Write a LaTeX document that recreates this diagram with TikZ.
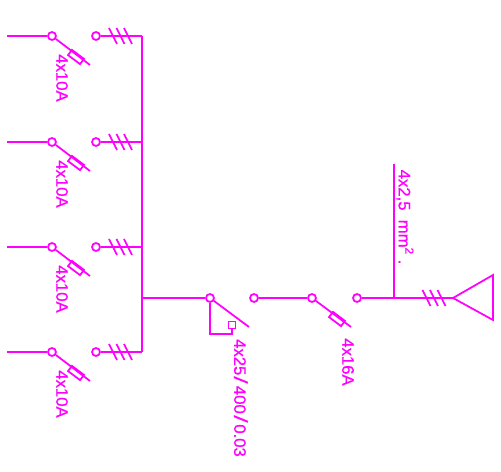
\documentclass[tikz,border=0pt]{standalone}
\usepackage{fontspec}
\setmainfont{Liberation Sans}
\newfontfamily\ratingfont[FakeBold=0.7]{Liberation Sans}
\usepackage{tikz}
\definecolor{wirecolor}{RGB}{255,0,255}
\tikzstyle{wire} = [draw=wirecolor,line width=1pt]
\tikzstyle{term} = [circle,draw=wirecolor,line width=1pt,fill=white,inner sep=0pt,minimum size=0.16cm]
\tikzstyle{fuse} = [rectangle,draw=wirecolor,line width=1pt,inner sep=0pt,minimum width=0.3cm,minimum height=0.13cm,rotate=-37]
\tikzstyle{rcd} = [rectangle,draw=wirecolor,line width=1pt,inner sep=0pt,minimum size=0.14cm]
\tikzstyle{rating} = [text=wirecolor,font=\ratingfont\fontsize{9.5}{11}\selectfont,rotate=-90,inner sep=0pt]
\newcommand{\threeticks}[2]{
\draw[wire] (#1-7.5,#2)+(-4,-8) -- +(4,8);
\draw[wire] (#1,#2)+(-4,-8) -- +(4,8);
\draw[wire] (#1+7.5,#2)+(-4,-8) -- +(4,8);
}
\newcommand{\wideslash}{\hspace{0.08em}{\normalfont\fontsize{9.5}{11}\selectfont\scalebox{1.7}[1.15]{/}}\hspace{0.08em}}

\begin{document}
\begin{tikzpicture}[x=0.02cm,y=-0.02cm]
\useasboundingbox (0,0) rectangle (501,472);

\coordinate (in1) at (7,36);
\coordinate (in2) at (7,142);
\coordinate (in3) at (7,247);
\coordinate (in4) at (7,352);
\coordinate (bus1) at (142,36);
\coordinate (bus2) at (142,142);
\coordinate (bus3) at (142,247);
\coordinate (bus4) at (142,352);
\coordinate (busout) at (142,298);
\coordinate (blade1) at (90,65);
\coordinate (blade2) at (90,171);
\coordinate (blade3) at (90,276);
\coordinate (blade4) at (90,381);
\coordinate (bladercd) at (249,327);
\coordinate (blademain) at (351,327);
\coordinate (corner) at (210,334);
\coordinate (cornerb) at (232,334);
\coordinate (tap) at (394,298);
\coordinate (taptop) at (394,164);

\draw[wire] (bus1) -- (bus4);

\node[term] (a1) at (52,36) {};
\node[term] (b1) at (96,36) {};
\node[term] (a2) at (52,142) {};
\node[term] (b2) at (96,142) {};
\node[term] (a3) at (52,247) {};
\node[term] (b3) at (96,247) {};
\node[term] (a4) at (52,352) {};
\node[term] (b4) at (96,352) {};
\node[term] (rcdin) at (210,298) {};
\node[term] (rcdout) at (254,298) {};
\node[term] (mainin) at (312,298) {};
\node[term] (mainout) at (357,298) {};

\draw[wire] (in1) -- (a1);
\draw[wire] (in2) -- (a2);
\draw[wire] (in3) -- (a3);
\draw[wire] (in4) -- (a4);
\draw[wire] (b1) -- (bus1);
\draw[wire] (b2) -- (bus2);
\draw[wire] (b3) -- (bus3);
\draw[wire] (b4) -- (bus4);
\draw[wire] (a1) -- (blade1);
\draw[wire] (a2) -- (blade2);
\draw[wire] (a3) -- (blade3);
\draw[wire] (a4) -- (blade4);

\node[fuse] (f1) at (76,57) {};
\node[fuse] (f2) at (76,163) {};
\node[fuse] (f3) at (76,268) {};
\node[fuse] (f4) at (76,373) {};
\node[fuse] (fmain) at (337,319) {};

\threeticks{120.5}{36}
\threeticks{120.5}{142}
\threeticks{120.5}{247}
\threeticks{120.5}{352}
\threeticks{434}{298}

\draw[wire] (busout) -- (rcdin);
\draw[wire] (rcdin) -- (bladercd);
\draw[wire] (rcdout) -- (mainin);
\draw[wire] (mainin) -- (blademain);
\draw[wire] (mainout) -- (tap);
\draw[wire] (tap) -- (taptop);

\node[rcd] (rcdbox) at (232,325) {};
\draw[wire] (rcdin) -- (corner) -- (cornerb) -- (rcdbox);

\coordinate (horn) at (453,298);
\coordinate (horntop) at (493,275);
\coordinate (hornbot) at (493,320);
\draw[wire] (tap) -- (horn);
\draw[wire] (horn) -- (horntop) -- (hornbot) -- cycle;

\node[rating] (l1) at (62,78) {4x10A};
\node[rating] (l2) at (62,184) {4x10A};
\node[rating] (l3) at (62,289) {4x10A};
\node[rating] (l4) at (62,394) {4x10A};
\node[rating] (lrcd) at (241,398) {4x25\wideslash 400\wideslash 0.03};
\node[rating] (lmain) at (348,362) {4x16A};
\node[rating] (lcable) at (405,217) {4x2,5 \ mm\textsuperscript{2} .};
\end{tikzpicture}
\end{document}
